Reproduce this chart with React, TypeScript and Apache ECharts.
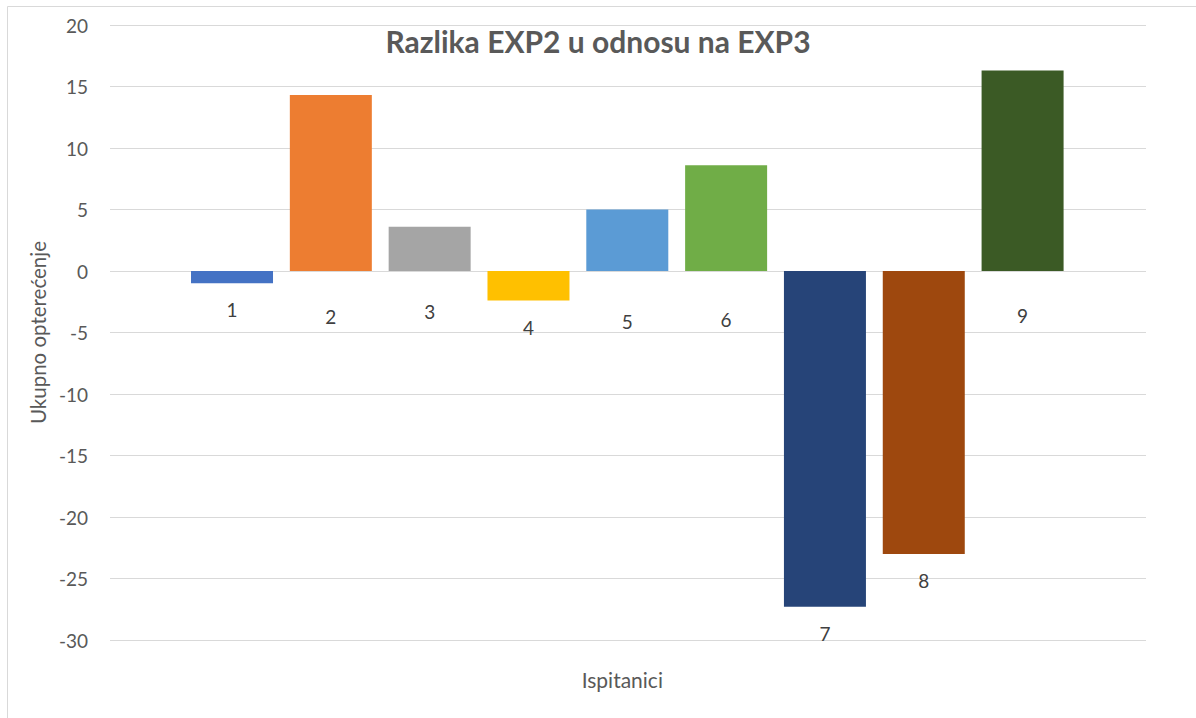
import React, { useEffect, useRef } from "react";
import * as echarts from "echarts";

const titleText = "Razlika EXP2 u odnosu na EXP3";
const categories = ["1", "2", "3", "4", "5", "6", "7", "8", "9"];
const values = [-1.0, 14.3, 3.6, -2.4, 5.0, 8.6, -27.3, -23.0, 16.3];
const barColors = ["#4472C4", "#ED7D31", "#A5A5A5", "#FFC000", "#5B9BD5", "#70AD47", "#264478", "#9E480E", "#3B5A25"];
const labelGaps = [17, 36, 31, 17, 41, 39, 17, 17, 35];
const yAxisName = "Ukupno opterećenje";
const xAxisName = "Ispitanici";

export default function App() {
  const ref = useRef<HTMLDivElement>(null);
  useEffect(() => {
    if (!ref.current) return;
    const chart = echarts.init(ref.current, null, { renderer: "svg" });
    const font = "Lato, 'Open Sans', sans-serif";
    chart.setOption({
      animation: false,
      backgroundColor: "#ffffff",
      title: {
        text: titleText,
        left: "center",
        top: 21,
        padding: [5, 0, 5, 8],
        textStyle: { fontFamily: font, fontSize: 30, fontWeight: "bold", color: "#595959" },
      },
      graphic: [
        {
          type: "rect",
          shape: { x: 7.5, y: 6.5, width: 1210, height: 730 },
          style: { fill: "none", stroke: "#D9D9D9", lineWidth: 1 },
          silent: true,
        },
      ],
      grid: [
        { left: 110, right: 50, top: 25, bottom: 78 },
        { left: 182.6, right: 124, top: 25, bottom: 78 },
      ],
      xAxis: [
        { type: "value", gridIndex: 0, show: false, min: 0, max: 1 },
        {
          type: "category",
          gridIndex: 1,
          data: categories,
          axisLine: { show: false, onZero: false },
          axisTick: { show: false },
          axisLabel: { show: false },
          name: xAxisName,
          nameLocation: "middle",
          nameGap: 29,
          nameTextStyle: { fontFamily: font, fontSize: 21, color: "#595959", padding: [0, 10, 0, 0] },
        },
      ],
      yAxis: [
        {
          type: "value",
          gridIndex: 0,
          min: -30,
          max: 20,
          interval: 5,
          axisLine: { show: false },
          axisTick: { show: false },
          axisLabel: { fontFamily: font, fontSize: 19, color: "#595959", margin: 22 },
          splitLine: { lineStyle: { color: "#D9D9D9", width: 1 } },
          name: yAxisName,
          nameLocation: "middle",
          nameGap: 61,
          nameTextStyle: { fontFamily: font, fontSize: 20.5, color: "#595959" },
        },
        { type: "value", gridIndex: 1, min: -30, max: 20, interval: 5, show: false },
      ],
      series: [
        {
          type: "bar",
          xAxisIndex: 1,
          yAxisIndex: 1,
          barWidth: 82,
          data: values.map((v, i) => ({
            value: v,
            itemStyle: { color: barColors[i] },
            label: { distance: labelGaps[i] },
          })),
          label: {
            show: true,
            position: "bottom",
            formatter: "{b}",
            fontFamily: font,
            fontSize: 19,
            color: "#404040",
          },
        },
      ],
    });
    return () => chart.dispose();
  }, []);
  return (
    <div
      ref={ref}
      style={{ position: "fixed", left: 0, top: 0, width: 1196, height: 718, background: "#fff" }}
    />
  );
}
